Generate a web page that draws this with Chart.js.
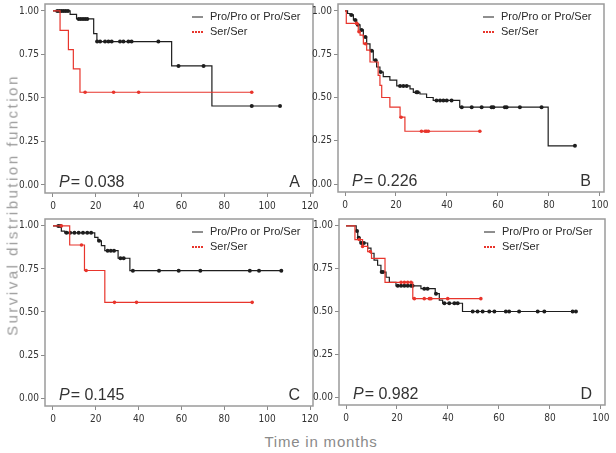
<!DOCTYPE html>
<html>
<head>
<meta charset="utf-8">
<script src="https://cdn.jsdelivr.net/npm/chart.js@4.4.0/dist/chart.umd.min.js"></script>
<style>
  html, body { margin: 0; padding: 0; background: #fff; }
  #wrap { position: relative; width: 616px; height: 453px; overflow: hidden; background: #fff; }
  #wrap canvas { position: absolute; }
  .ytitle {
    position: absolute; left: 12px; top: 205px;
    transform: translate(-50%, -50%) rotate(-90deg);
    white-space: nowrap; font: 15px 'Liberation Sans', Arial, sans-serif;
    letter-spacing: 2.5px; color: #9a9a9a;
  }
  .xtitle {
    position: absolute; left: 321px; top: 441px;
    transform: translate(-50%, -50%);
    white-space: nowrap; font: 15px 'Liberation Sans', Arial, sans-serif;
    letter-spacing: 0.8px; color: #8a8a8a;
  }
</style>
</head>
<body>
<div id="wrap">
  <canvas id="panelA"></canvas>
  <canvas id="panelB"></canvas>
  <canvas id="panelC"></canvas>
  <canvas id="panelD"></canvas>
  <div class="ytitle">Survival distribution function</div>
  <div class="xtitle">Time in months</div>
</div>
<script>
// labels
const legendLabels = ['Pro/Pro or Pro/Ser', 'Ser/Ser'];
const panelLetters = ['A', 'B', 'C', 'D'];
const pValues = ['0.038', '0.226', '0.145', '0.982'];
const xTicksAC = [0, 20, 40, 60, 80, 100, 120];
const xTicksBD = [0, 20, 40, 60, 80, 100];
const yTicks = [0, 0.25, 0.5, 0.75, 1];

// Panel A
const aProTime = [0, 8, 11, 19, 20.5, 55.4, 74.2, 106];
const aProSurv = [1, 0.98, 0.954, 0.87, 0.824, 0.684, 0.454, 0.454];
const aProCens = [2, 3, 4, 5, 6, 7, 12, 13, 14, 15, 16, 20.6, 22, 24.3, 25.9, 27.4, 31.3, 32.9, 35.2, 36.7, 49.2, 58.6, 70.3, 92.8, 106];
const aSerTime = [0, 3.3, 7.2, 9.5, 12.6, 92.8];
const aSerSurv = [1, 0.889, 0.778, 0.667, 0.533, 0.533];
const aSerCens = [15, 28.3, 40, 92.8];

// Panel B
const bProTime = [0, 1, 2, 3.3, 4.6, 5.9, 7.2, 8.5, 9.8, 11.1, 12.4, 13.7, 15, 17.6, 20.3, 25.5, 26.8, 29.4, 32, 34.6, 45, 79.7, 90.2];
const bProSurv = [1, 0.985, 0.977, 0.948, 0.92, 0.89, 0.85, 0.81, 0.77, 0.715, 0.676, 0.647, 0.62, 0.6, 0.567, 0.55, 0.53, 0.52, 0.5, 0.483, 0.444, 0.221, 0.221];
const bProCens = [2.5, 4, 5, 6.5, 8, 10.5, 12, 14, 21.6, 22.9, 24.2, 28, 28.5, 35.9, 37.3, 38.6, 39.9, 41.8, 45.8, 49.7, 53.6, 57.5, 58.2, 62.7, 63.4, 68.6, 77.1, 90.2];
const bSerTime = [0, 0.5, 5.2, 5.9, 7.2, 8.5, 9.8, 13, 13.7, 14.4, 17.6, 21.6, 23.5, 52.9];
const bSerSurv = [1, 0.928, 0.88, 0.86, 0.81, 0.773, 0.705, 0.628, 0.57, 0.5, 0.444, 0.386, 0.305, 0.305];
const bSerCens = [4.5, 5.5, 8, 22, 30, 31.4, 32, 32.7, 52.9];

// Panel C
const cProTime = [0, 3.9, 5.5, 19.5, 21, 22.6, 24.2, 30.4, 35.9, 106.6];
const cProSurv = [1, 0.97, 0.96, 0.933, 0.913, 0.885, 0.856, 0.812, 0.74, 0.74];
const cProCens = [2.5, 3.5, 6.3, 8, 10, 12, 14, 16, 17.8, 21.5, 25.5, 27, 28.5, 31.5, 33, 37.3, 49.5, 58.7, 68.8, 91.9, 96.2, 106.6];
const cSerTime = [0, 7.8, 14.7, 24.2, 93];
const cSerSurv = [1, 0.889, 0.741, 0.556, 0.556];
const cSerCens = [3.9, 13.3, 15.5, 28.7, 39, 93];

// Panel D
const dProTime = [0, 4, 4.6, 5.5, 8.5, 9.8, 11, 12.4, 13.7, 15.7, 17, 19.6, 29.4, 35, 36.6, 37.9, 45.7, 90.2];
const dProSurv = [1, 0.97, 0.93, 0.9, 0.87, 0.84, 0.8, 0.77, 0.73, 0.7, 0.67, 0.65, 0.633, 0.604, 0.566, 0.548, 0.5, 0.5];
const dProCens = [4.3, 5, 6, 7, 14, 14.5, 20.3, 21.6, 22.9, 24.2, 25.5, 26.1, 30.7, 32, 35.3, 38.6, 40.5, 42.5, 43.8, 49.7, 51.6, 53.6, 56.2, 58.2, 62.7, 64, 67.9, 75.2, 77.8, 88.9, 90.2];
const dSerTime = [0, 3.5, 6.5, 8.5, 10, 15.3, 26.2, 52.9];
const dSerSurv = [1, 0.92, 0.88, 0.85, 0.81, 0.67, 0.575, 0.575];
const dSerCens = [5.2, 6.5, 9.5, 21.6, 22.9, 24.2, 25.5, 26.8, 30.7, 32.7, 33.3, 39.9, 52.9];

const BLACK = '#1e1e1e';
const RED = '#e8352c';
const tickFont = { family: "'DejaVu Sans Condensed', 'Liberation Sans Narrow', sans-serif", size: 10 };

// survival value of a step curve at time t
function survAt(times, surv, t) {
    let s = surv[0];
    for (let i = 0; i < times.length; i++) {
        if (times[i] <= t) s = surv[i];
    }
    return s;
}

function curveSet(times, surv, color, width) {
    return {
        data: times.map((t, i) => ({ x: t, y: surv[i] })),
        showLine: true,
        stepped: 'before',
        borderColor: color,
        borderWidth: width,
        pointRadius: 0,
        fill: false
    };
}

function censSet(cens, times, surv, color, r) {
    return {
        data: cens.map(t => ({ x: t, y: survAt(times, surv, t) })),
        showLine: false,
        pointStyle: 'circle',
        pointRadius: r,
        pointBackgroundColor: color,
        pointBorderWidth: 0
    };
}

// frame, legend, p value and panel letter
const panelDecor = {
    id: 'panelDecor',
    afterDatasetsDraw(chart, args, opts) {
        const { ctx, chartArea: a } = chart;
        ctx.save();
        ctx.strokeStyle = '#9a9a9a';
        ctx.lineWidth = 1.5;
        ctx.strokeRect(a.left, a.top, a.right - a.left, a.bottom - a.top);

        // legend
        ctx.font = "11px 'Liberation Sans', Arial, sans-serif";
        ctx.textBaseline = 'middle';
        ctx.textAlign = 'left';
        const y1 = a.top + 13, y2 = a.top + 28;
        ctx.strokeStyle = BLACK;
        ctx.lineWidth = 1;
        ctx.beginPath();
        ctx.moveTo(a.right - 121, y1); ctx.lineTo(a.right - 110, y1);
        ctx.stroke();
        ctx.strokeStyle = RED;
        ctx.lineWidth = 2;
        ctx.setLineDash([2, 1]);
        ctx.beginPath();
        ctx.moveTo(a.right - 121, y2); ctx.lineTo(a.right - 110, y2);
        ctx.stroke();
        ctx.setLineDash([]);
        ctx.fillStyle = '#2a2a2a';
        ctx.fillText(legendLabels[0], a.right - 103, y1);
        ctx.fillText(legendLabels[1], a.right - 103, y2);

        // P value
        ctx.textBaseline = 'alphabetic';
        ctx.fillStyle = '#333';
        ctx.font = "italic 16px 'Liberation Sans', Arial, sans-serif";
        const px = a.left + 14, py = a.bottom - 6;
        ctx.fillText('P', px, py);
        const w = ctx.measureText('P').width;
        ctx.font = "16px 'Liberation Sans', Arial, sans-serif";
        ctx.fillText('= ' + opts.p, px + w + 1, py);

        // panel letter
        ctx.textAlign = 'right';
        ctx.fillText(opts.letter, a.right - 13, py);
        ctx.restore();
    }
};

function makePanel(id, box, xMin, xMax, xTicks, sets, letter, p) {
    const cv = document.getElementById(id);
    const left = box.L - 32, top = box.T - 6;
    const w = box.R + 12 - left, h = box.B + 24 - top;
    cv.width = w; cv.height = h;
    cv.style.left = left + 'px'; cv.style.top = top + 'px';
    cv.style.width = w + 'px'; cv.style.height = h + 'px';

    new Chart(cv, {
        type: 'scatter',
        data: { datasets: sets },
        options: {
            responsive: false,
            animation: false,
            devicePixelRatio: 1,
            layout: { padding: { top: 6, right: 12, left: 0, bottom: 0 } },
            plugins: {
                legend: { display: false },
                tooltip: { enabled: false },
                panelDecor: { p: p, letter: letter }
            },
            scales: {
                x: {
                    type: 'linear',
                    min: xMin,
                    max: xMax,
                    afterBuildTicks: s => { s.ticks = xTicks.map(v => ({ value: v })); },
                    afterFit: s => { s.height = 24; s.paddingLeft = 0; s.paddingRight = 0; },
                    border: { display: false },
                    grid: { drawOnChartArea: false, drawTicks: true, tickLength: 4, color: '#8a8a8a' },
                    ticks: { font: tickFont, color: '#333', padding: 3, maxRotation: 0, autoSkip: false, callback: v => String(v) }
                },
                y: {
                    type: 'linear',
                    min: -0.046,
                    max: 1.04,
                    afterBuildTicks: s => { s.ticks = yTicks.map(v => ({ value: v })); },
                    afterFit: s => { s.width = 32; s.paddingTop = 0; s.paddingBottom = 0; },
                    border: { display: false },
                    grid: { drawOnChartArea: false, drawTicks: true, tickLength: 4, color: '#8a8a8a' },
                    ticks: { font: tickFont, color: '#333', padding: 2, autoSkip: false, callback: v => Number(v).toFixed(2) }
                }
            }
        },
        plugins: [panelDecor]
    });
}

function panelSets(proT, proS, proC, serT, serS, serC) {
    return [
        curveSet(serT, serS, RED, 1.2),
        censSet(serC, serT, serS, RED, 1.8),
        curveSet(proT, proS, BLACK, 1.2),
        censSet(proC, proT, proS, BLACK, 2)
    ];
}

makePanel('panelA', { L: 45, T: 4, R: 313, B: 193 }, -3.73, 121.4, xTicksAC,
    panelSets(aProTime, aProSurv, aProCens, aSerTime, aSerSurv, aSerCens), panelLetters[0], pValues[0]);
makePanel('panelB', { L: 338, T: 4, R: 604, B: 192 }, -2.75, 101.6, xTicksBD,
    panelSets(bProTime, bProSurv, bProCens, bSerTime, bSerSurv, bSerCens), panelLetters[1], pValues[1]);
makePanel('panelC', { L: 45, T: 219, R: 313, B: 406 }, -3.73, 121.4, xTicksAC,
    panelSets(cProTime, cProSurv, cProCens, cSerTime, cSerSurv, cSerCens), panelLetters[2], pValues[2]);
makePanel('panelD', { L: 339, T: 219, R: 605, B: 405 }, -2.75, 101.6, xTicksBD,
    panelSets(dProTime, dProSurv, dProCens, dSerTime, dSerSurv, dSerCens), panelLetters[3], pValues[3]);
</script>
</body>
</html>
